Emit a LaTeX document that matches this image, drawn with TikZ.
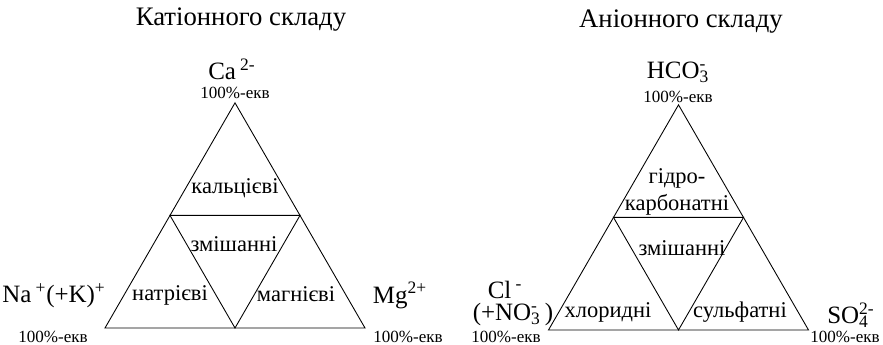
\documentclass[tikz,border=0pt]{standalone}
\usepackage{fontspec}
\setmainfont{Liberation Serif}
\usepackage{tikz}
\usetikzlibrary{calc}

\newcommand{\ionsup}[1]{\textsuperscript{#1}}
\newcommand{\ionstack}[2]{\rlap{\textsuperscript{#2}}\textsubscript{#1}}

\tikzset{
    heading/.style={inner sep=0pt, font=\fontsize{15.2}{17}\selectfont},
    big/.style={inner sep=0pt, font=\fontsize{14.2}{16}\selectfont},
    small/.style={inner sep=0pt, font=\fontsize{9.7}{11}\selectfont},
    zone/.style={inner sep=0pt, align=center, font=\fontsize{12.8}{15}\selectfont},
    tri/.style={black, line width=0.5pt, line join=miter}
}

\begin{document}
\begin{tikzpicture}
        \useasboundingbox (0, 0) rectangle (17.66, 6.9);
        % cation triangle
        \coordinate (ca) at (4.7, 4.843);
        \coordinate (na) at (2.1, 0.34);
        \coordinate (mg) at (7.3, 0.34);
        \coordinate (camid1) at ($(ca)!0.5!(na)$);
        \coordinate (camid2) at ($(ca)!0.5!(mg)$);
        \coordinate (camid3) at ($(na)!0.5!(mg)$);
        \draw [tri] (ca) -- (na) -- (mg) -- cycle;
        \draw [tri] (camid1) -- (camid2) -- (camid3) -- cycle;
        % anion triangle
        \coordinate (hco) at (13.57, 4.803);
        \coordinate (cl) at (10.97, 0.30);
        \coordinate (so) at (16.17, 0.30);
        \coordinate (anmid1) at ($(hco)!0.5!(cl)$);
        \coordinate (anmid2) at ($(hco)!0.5!(so)$);
        \coordinate (anmid3) at ($(cl)!0.5!(so)$);
        \draw [tri] (hco) -- (cl) -- (so) -- cycle;
        \draw [tri] (anmid1) -- (anmid2) -- (anmid3) -- cycle;

        \node [heading] (cattitle) at (4.82, 6.5) {Катіонного складу};
        \node [big] (catca) at (4.64, 5.52) {Ca\,\ionsup{2-}};
        \node [small] (catcap) at (4.7, 5.04) {100\%-екв};
        \node [big] (catna) at (1.08, 0.99) {Na\,\ionsup{+}(+K)\ionsup{+}};
        \node [small] (catnap) at (1.06, 0.17) {100\%-екв};
        \node [big] (catmg) at (8.0, 0.99) {Mg\ionsup{2+}};
        \node [small] (catmgp) at (8.16, 0.17) {100\%-екв};
        \node [zone] (catz1) at (4.7, 3.14) {кальцієві};
        \node [zone] (catz2) at (4.68, 2.02) {змішанні};
        \node [zone] (catz3) at (3.4, 1.0) {натрієві};
        \node [zone] (catz4) at (5.92, 1.02) {магнієві};

        \node [heading] (antitle) at (13.62, 6.46) {Аніонного складу};
        \node [big] (anhco) at (13.56, 5.46) {HCO\ionstack{3}{-}};
        \node [small] (anhcop) at (13.56, 4.96) {100\%-екв};
        \node [big] (ancl) at (10.1, 1.1) {Cl\,\ionsup{-}};
        \node [big] (anno) at (10.26, 0.6) {(+NO\ionstack{3}{-}\,)};
        \node [small] (anclp) at (10.12, 0.17) {100\%-екв};
        \node [big] (anso) at (16.96, 0.6) {SO\ionstack{4}{2-}};
        \node [small] (ansop) at (16.9, 0.17) {100\%-екв};
        \node [zone] (anz1) at (13.54, 3.06) {гідро-\\карбонатні};
        \node [zone] (anz2) at (13.64, 1.94) {змішанні};
        \node [zone] (anz3) at (12.16, 0.66) {хлоридні};
        \node [zone] (anz4) at (14.8, 0.66) {сульфатні};
    \end{tikzpicture}
\end{document}
